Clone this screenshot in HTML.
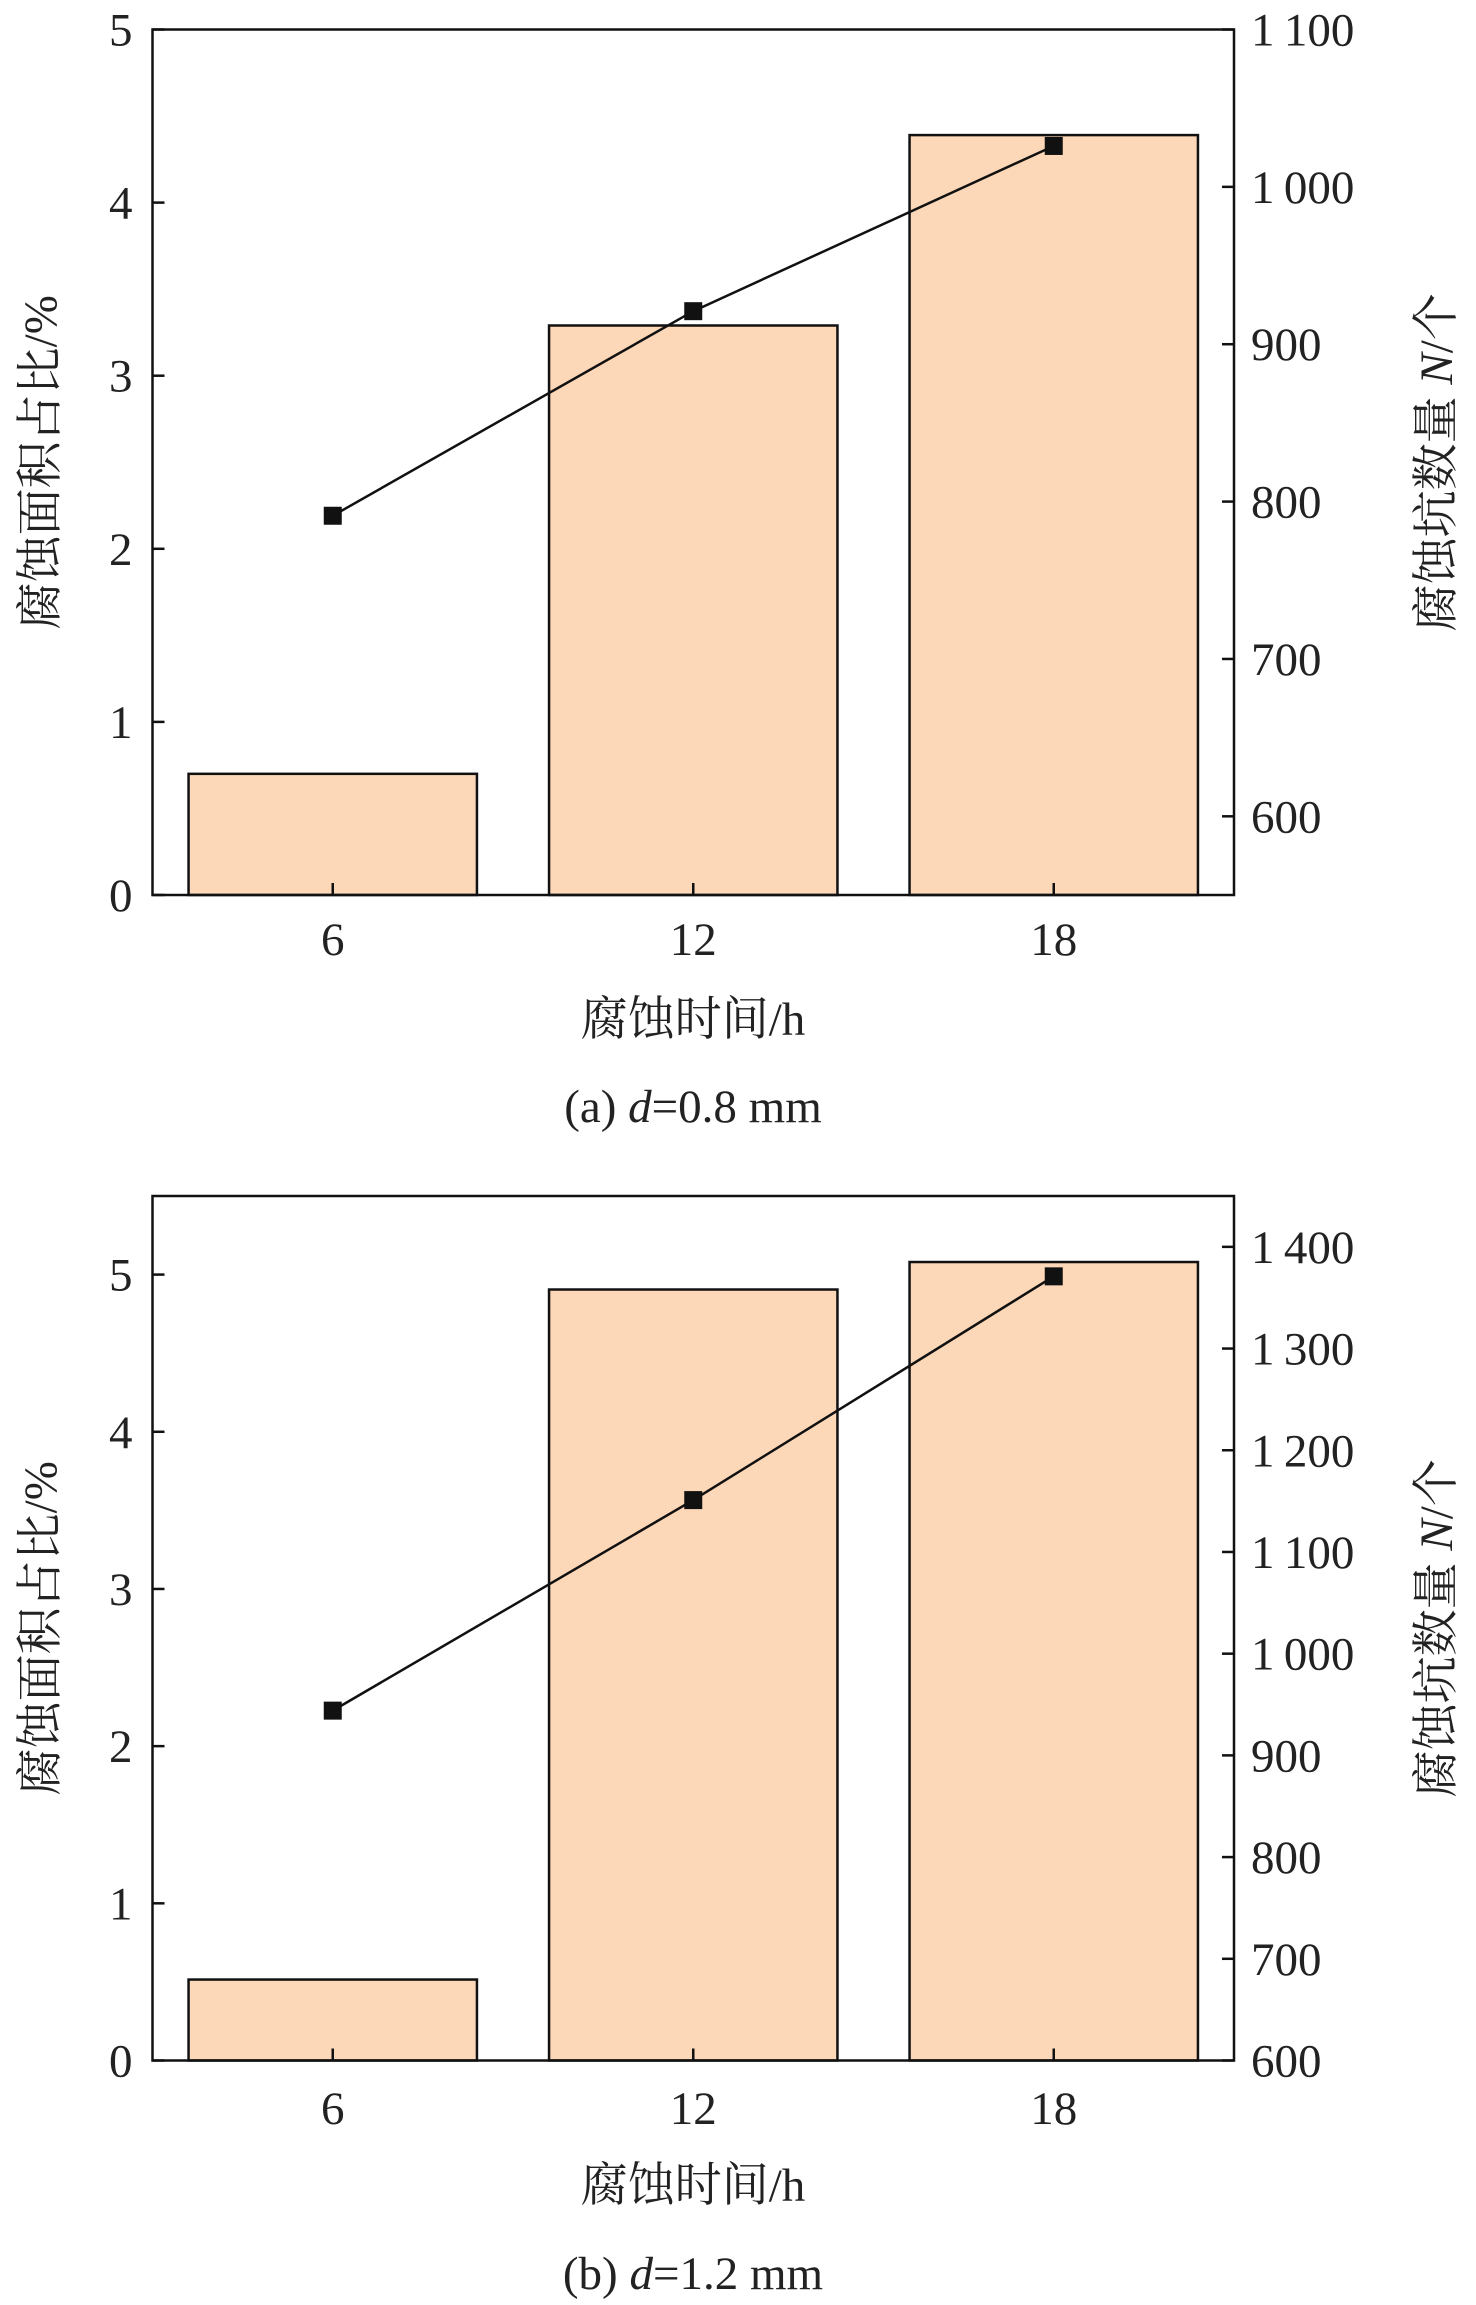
<!DOCTYPE html>
<html><head><meta charset="utf-8"><style>
html,body{margin:0;padding:0;background:#fff;width:1476px;height:2305px;overflow:hidden}
svg{display:block}
text{font-family:"Liberation Serif","Noto Serif CJK SC",serif;fill:#222}
</style></head><body>
<svg id="chart" width="1476" height="2305" viewBox="0 0 1476 2305" xmlns="http://www.w3.org/2000/svg"></svg>
<script>
const categories = [6, 12, 18];
const areaA = [0.70, 3.29, 4.39];
const countA = [791, 921, 1026];
const areaB = [0.515, 4.905, 5.08];
const countB = [944, 1151, 1371];
const leftTicksA = [0, 1, 2, 3, 4, 5];
const rightTicksA = [600, 700, 800, 900, 1000, 1100];
const leftTicksB = [0, 1, 2, 3, 4, 5];
const rightTicksB = [600, 700, 800, 900, 1000, 1100, 1200, 1300, 1400];

const svg = document.getElementById('chart');
const NS = 'http://www.w3.org/2000/svg';
const FS = 47;
function el(tag, attrs, parent) {
  const e = document.createElementNS(NS, tag);
  for (const k in attrs) e.setAttribute(k, attrs[k]);
  (parent || svg).appendChild(e);
  return e;
}
function fmt(v) { return v >= 1000 ? Math.floor(v / 1000) + '\u2009' + String(v % 1000).padStart(3, '0') : String(v); }

function panel(cfg) {
  const g = el('g', {});
  
  
  const L = 152.5, R = 1234, T = cfg.top, B = cfg.bottom;
  const x = v => L + (v - 3) / 18 * (R - L);
  const yL = v => B - (v - cfg.lMin) / (cfg.lMax - cfg.lMin) * (B - T);
  const yR = v => B - (v - cfg.rMin) / (cfg.rMax - cfg.rMin) * (B - T);
  const bw = (x(6) - x(0)) * 0.8;
  categories.forEach((c, i) => {
    const r = el('rect', {x: x(c) - bw / 2, y: yL(cfg.area[i]), width: bw, height: B - yL(cfg.area[i]), fill: '#fdd8b8', stroke: '#111', 'stroke-width': 2.5}, g);
    
    
  });
  const f = el('rect', {x: L, y: T, width: R - L, height: B - T, fill: 'none', stroke: '#111', 'stroke-width': 2.5}, g);
  
  
  cfg.lTicks.forEach(t => {
    el('line', {x1: L, x2: L + 12, y1: yL(t), y2: yL(t), stroke: '#111', 'stroke-width': 2.5}, g);
    const tx = el('text', {x: L - 20, y: yL(t) + 16, 'text-anchor': 'end', 'font-size': FS}, g);
    tx.textContent = t;
    
    
  });
  cfg.rTicks.forEach(t => {
    el('line', {x1: R - 12, x2: R, y1: yR(t), y2: yR(t), stroke: '#111', 'stroke-width': 2.5}, g);
    const tx = el('text', {x: R + 17, y: yR(t) + 16, 'text-anchor': 'start', 'font-size': FS}, g);
    tx.textContent = fmt(t);
    
    
  });
  categories.forEach(c => {
    el('line', {x1: x(c), x2: x(c), y1: B, y2: B - 12, stroke: '#111', 'stroke-width': 2.5}, g);
    const tx = el('text', {x: x(c), y: cfg.xTickY, 'text-anchor': 'middle', 'font-size': FS}, g);
    tx.textContent = c;
    
    
  });
  const pts = categories.map((c, i) => x(c) + ',' + yR(cfg.count[i])).join(' ');
  const pl = el('polyline', {points: pts, fill: 'none', stroke: '#111', 'stroke-width': 2.5}, g);
  
  
  categories.forEach((c, i) => {
    const m = el('rect', {x: x(c) - 9, y: yR(cfg.count[i]) - 9, width: 18, height: 18, fill: '#111'}, g);
    
    
  });
  const xt = el('text', {x: 693, y: cfg.xTitleY, 'text-anchor': 'middle', 'font-size': FS}, g);
  xt.textContent = '腐蚀时间/h';
  
  
  const yc = (T + B) / 2 + cfg.yTitleShift;
  const lt = el('text', {x: 0, y: 0, 'text-anchor': 'middle', 'font-size': FS, transform: `translate(56,${yc}) rotate(-90)`}, g);
  lt.textContent = '腐蚀面积占比/%';
  
  
  const rt = el('text', {x: 0, y: 0, 'text-anchor': 'middle', 'font-size': FS, transform: `translate(1452,${yc}) rotate(-90)`}, g);
  rt.innerHTML = '腐蚀坑数量 <tspan font-style="italic">N</tspan>/个';
  
  
  const cap = el('text', {x: 693, y: cfg.capY, 'text-anchor': 'middle', 'font-size': FS}, g);
  cap.innerHTML = cfg.caption;
  
  
}

panel({name: 'panel-a', top: 29.5, bottom: 895, lMin: 0, lMax: 5, rMin: 550, rMax: 1100,
  area: areaA, count: countA, lTicks: leftTicksA, rTicks: rightTicksA,
  xTickY: 955, xTitleY: 1035, capY: 1122, yTitleShift: 0,
  caption: '(a) <tspan font-style="italic">d</tspan>=0.8 mm'});
panel({name: 'panel-b', top: 1196, bottom: 2060.5, lMin: 0, lMax: 5.5, rMin: 600, rMax: 1450,
  area: areaB, count: countB, lTicks: leftTicksB, rTicks: rightTicksB,
  xTickY: 2124, xTitleY: 2201, capY: 2289, yTitleShift: 0,
  caption: '(b) <tspan font-style="italic">d</tspan>=1.2 mm'});
</script>
</body></html>
